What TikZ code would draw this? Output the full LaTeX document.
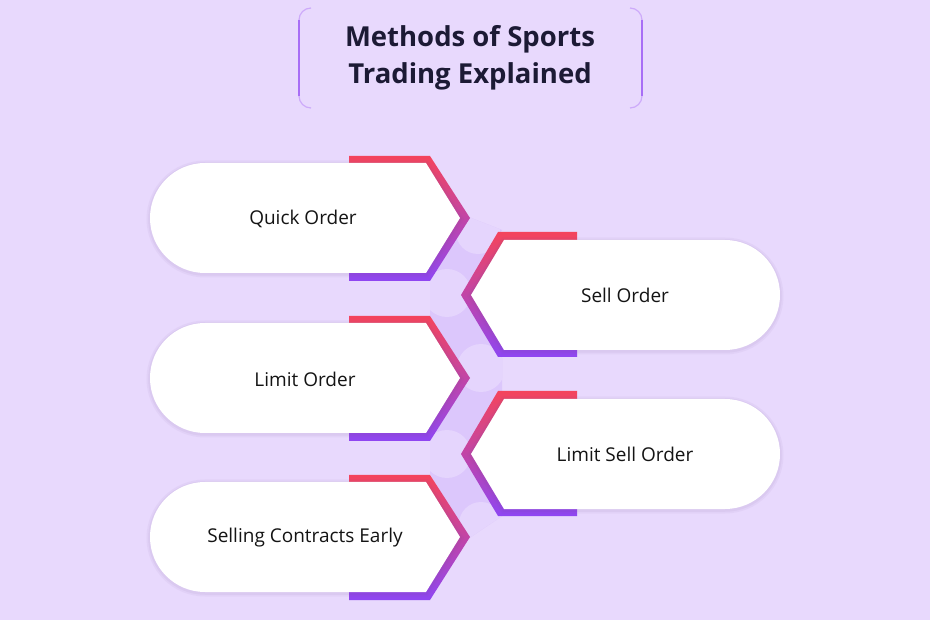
\documentclass[tikz,border=0pt]{standalone}
\usepackage{fontspec}
\setmainfont{Open Sans}
\definecolor{bg}{HTML}{E8D9FD}
\definecolor{band}{HTML}{DCC7FC}
\definecolor{blob}{HTML}{E5D5FD}
\definecolor{gradtop}{HTML}{F4445C}
\definecolor{gradbot}{HTML}{8E46F2}
\definecolor{titlecol}{HTML}{1C1A35}
\definecolor{edge}{HTML}{A86EF6}
\definecolor{edgelight}{HTML}{CDAAFA}
\definecolor{shadowcol}{HTML}{6A4A90}
\tikzset{
  lbl/.style={font=\fontsize{19}{22}\selectfont, text=black!92},
  titletext/.style={font=\fontsize{27.5}{37}\selectfont\bfseries, text=titlecol, align=center},
  frame/.style={shade, top color=gradtop, bottom color=gradbot},
  pill/.style={fill=white,
    preaction={draw=shadowcol, draw opacity=0.05, line width=7pt, transform canvas={yshift=-1pt}},
    preaction={draw=shadowcol, draw opacity=0.06, line width=3.5pt, transform canvas={yshift=-1pt}}},
  titleline/.style={draw=edge, line width=1.2pt},
  titlecorner/.style={draw=edgelight, line width=1.2pt}
}
\newcommand\leftitem[1]{%
  \path[frame] (349,{#1-62}) -- (430,{#1-62}) -- (470,#1) -- (430,{#1+63}) -- (349,{#1+63}) -- cycle;
  \path[pill] (426,{#1-55}) -- (460,#1) -- (426,{#1+55}) -- (205,{#1+55}) arc[start angle=270,end angle=90,radius=55pt] -- cycle;
}
\newcommand\rightitem[1]{%
  \path[frame] (577,{#1-63}) -- (498,{#1-63}) -- (461,#1) -- (498,{#1+62}) -- (577,{#1+62}) -- cycle;
  \path[pill] (504,{#1-55}) -- (725,{#1-55}) arc[start angle=90,end angle=-90,radius=55pt] -- (504,{#1+55}) -- (471,#1) -- cycle;
}
\begin{document}
\begin{tikzpicture}[x=1pt,y=-1pt]
\fill[bg] (0,0) rectangle (930,620);
\useasboundingbox (0,0) rectangle (930,620);
% title frame
\draw[titlecorner] (311,8) arc[start angle=90,end angle=180,radius=12pt];
\draw[titlecorner] (299,96) arc[start angle=180,end angle=270,radius=12pt];
\draw[titleline] (299,20) -- (299,96);
\draw[titlecorner] (630,8) arc[start angle=90,end angle=0,radius=12pt];
\draw[titlecorner] (642,96) arc[start angle=0,end angle=-90,radius=12pt];
\draw[titleline] (642,20) -- (642,96);
\node[titletext] (title) at (470,58) {Methods of Sports\\Trading Explained};
% central band
\fill[band] (466,216) -- (502,230) -- (463,295) -- (502,358) -- (502,391) -- (463,454) -- (502,516) -- (468,539) -- (430,474) -- (430,440) -- (468,378) -- (430,316) -- (430,281) -- cycle;
\begin{scope}
\clip (466,216) -- (502,230) -- (463,295) -- (502,358) -- (502,391) -- (463,454) -- (502,516) -- (468,539) -- (430,474) -- (430,440) -- (468,378) -- (430,316) -- (430,281) -- cycle;
\fill[blob] (478,232) circle[radius=22pt];
\fill[blob] (447,293) circle[radius=24pt];
\fill[blob] (481,368) circle[radius=24pt];
\fill[blob] (447,454) circle[radius=24pt];
\fill[blob] (481,524) circle[radius=22pt];
\end{scope}
% items
\leftitem{218}
\rightitem{295}
\leftitem{378}
\rightitem{454}
\leftitem{537}
\node[lbl] (quick) at (303,219) {Quick Order};
\node[lbl] (sell) at (625,295) {Sell Order};
\node[lbl] (limit) at (305,379) {Limit Order};
\node[lbl] (limitsell) at (625,454) {Limit Sell Order};
\node[lbl] (early) at (305,538) {Selling Contracts Early};
\end{tikzpicture}
\end{document}
